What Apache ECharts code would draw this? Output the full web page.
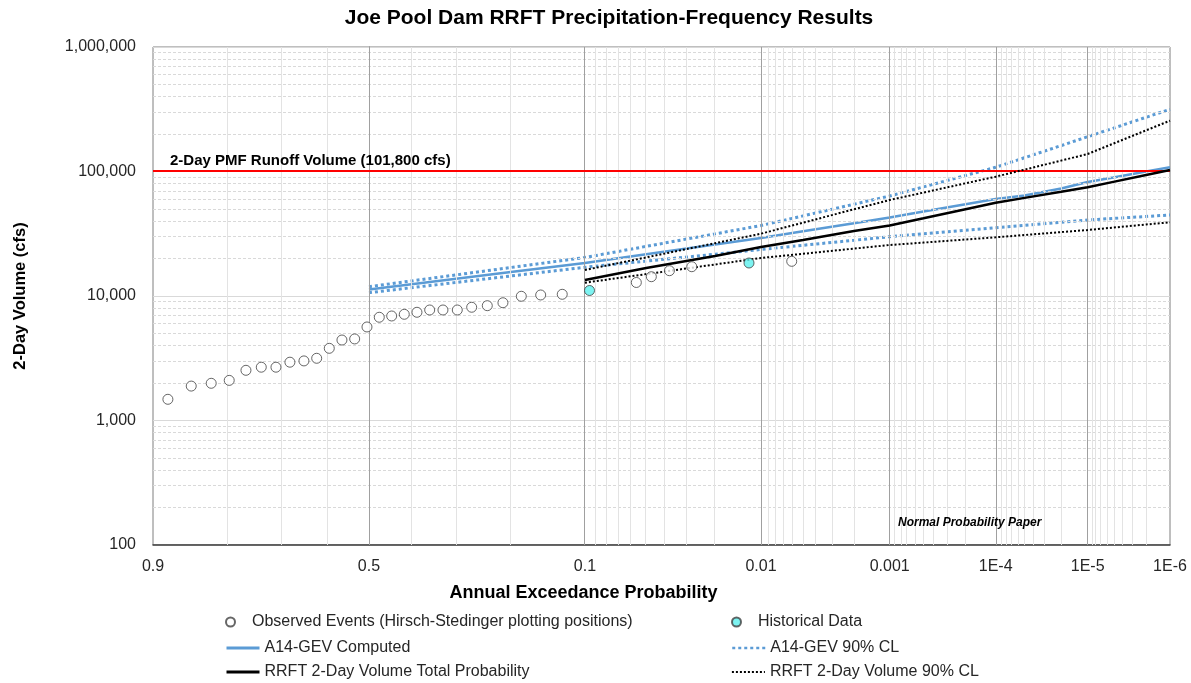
<!DOCTYPE html>
<html>
<head>
<meta charset="utf-8">
<title>Joe Pool Dam RRFT Precipitation-Frequency Results</title>
<script src="https://cdn.jsdelivr.net/npm/echarts@6/dist/echarts.min.js"></script>
<style>
  html, body { margin: 0; padding: 0; background: #fff; }
  #chart { width: 1191px; height: 683px; }
</style>
</head>
<body>
<div id="chart"></div>
<script>
// x axis tick positions (annual exceedance probability)
const tickAEP = [0.9, 0.5, 0.1, 0.01, 0.001, 1e-4, 1e-5, 1e-6];
const tickLabels = ['0.9', '0.5', '0.1', '0.01', '0.001', '1E-4', '1E-5', '1E-6'];

// observed events (Hirsch-Stedinger plotting positions)
const obsAEP = [0.8836, 0.8542, 0.8254, 0.7965, 0.7673, 0.7386, 0.7095, 0.6805, 0.6502, 0.6218,
  0.5931, 0.5637, 0.5338, 0.5047, 0.4756, 0.4464, 0.4170, 0.3879, 0.3593, 0.3303,
  0.3001, 0.2711, 0.2413, 0.2133, 0.1830, 0.1541, 0.1257, 0.0563, 0.0469, 0.0373,
  0.0277, 0.00606];
const obsVol = [1480, 1890, 1990, 2100, 2530, 2680, 2680, 2940, 3010, 3160,
  3800, 4430, 4520, 5640, 6750, 6910, 7130, 7400, 7720, 7720,
  7720, 8120, 8360, 8830, 9950, 10190, 10320, 12840, 14290, 15970,
  17190, 18990];

// historical data
const histAEP = [0.0953, 0.01206];
const histVol = [11070, 18410];

// A14-GEV curves
const gevAEP = [0.5, 0.2, 0.1, 0.05, 0.02, 0.01, 0.005, 0.002, 0.001, 5e-4, 2e-4, 1e-4, 5e-5, 2e-5, 1e-5, 5e-6, 2e-6, 1e-6];
const gevComputed = [11280, 15560, 18410, 21620, 25930, 29240, 33090, 38430, 42710, 47640, 54520, 60130, 64160, 73030, 82360, 89480, 100000, 108080];
const gevUpper = [11880, 16940, 20380, 25030, 31540, 36830, 44000, 54620, 63570, 75200, 92880, 108080, 129080, 161440, 190330, 222700, 272450, 315940];
const gevLower = [10630, 14480, 17010, 19070, 21660, 23640, 25550, 28020, 29950, 31600, 33710, 35380, 36980, 39150, 40770, 42000, 43510, 44730];

// RRFT 2-day volume curves
const rrftAEP = [0.1, 0.05, 0.02, 0.01, 0.005, 0.002, 0.001, 5e-4, 2e-4, 1e-4, 5e-5, 2e-5, 1e-5, 5e-6, 2e-6, 1e-6];
const rrftTotal = [13440, 16790, 20960, 24750, 28180, 33280, 36830, 42080, 49800, 56160, 61380, 68700, 74660, 82510, 93730, 102800];
const rrftUpper = [16180, 20420, 26550, 31650, 38800, 49710, 59040, 67690, 80400, 90850, 103590, 122330, 138240, 167510, 213850, 255860];
const rrftLower = [12790, 14990, 17910, 20200, 21830, 24030, 25680, 26850, 28430, 29610, 30900, 32600, 33890, 35440, 37530, 39080];

// PMF runoff volume
const pmfVolume = 101800;
const pmfLabel = '2-Day PMF Runoff Volume (101,800 cfs)';

const FONT = "'Liberation Sans', Arial, sans-serif";

// inverse standard normal (Acklam)
function normInv(p) {
  const a = [-3.969683028665376e+01, 2.209460984245205e+02, -2.759285104469687e+02, 1.383577518672690e+02, -3.066479806614716e+01, 2.506628277459239e+00];
  const b = [-5.447609879822406e+01, 1.615858368580409e+02, -1.556989798598866e+02, 6.680131188771972e+01, -1.328068155288572e+01];
  const c = [-7.784894002430293e-03, -3.223964580411365e-01, -2.400758277161838e+00, -2.549732539343734e+00, 4.374664141464968e+00, 2.938163982698783e+00];
  const d = [7.784695709041462e-03, 3.224671290700398e-01, 2.445134137142996e+00, 3.754408661907416e+00];
  const pl = 0.02425;
  let q, r;
  if (p < pl) {
    q = Math.sqrt(-2 * Math.log(p));
    return (((((c[0] * q + c[1]) * q + c[2]) * q + c[3]) * q + c[4]) * q + c[5]) /
      ((((d[0] * q + d[1]) * q + d[2]) * q + d[3]) * q + 1);
  }
  if (p > 1 - pl) {
    q = Math.sqrt(-2 * Math.log(1 - p));
    return -(((((c[0] * q + c[1]) * q + c[2]) * q + c[3]) * q + c[4]) * q + c[5]) /
      ((((d[0] * q + d[1]) * q + d[2]) * q + d[3]) * q + 1);
  }
  q = p - 0.5;
  r = q * q;
  return (((((a[0] * r + a[1]) * r + a[2]) * r + a[3]) * r + a[4]) * r + a[5]) * q /
    (((((b[0] * r + b[1]) * r + b[2]) * r + b[3]) * r + b[4]) * r + 1);
}
// normal probability paper: x = z of non-exceedance
function zOf(aep) { return -normInv(aep); }

function pairs(xs, ys) {
  return xs.map((p, i) => [zOf(p), ys[i]]);
}

const tickZ = tickAEP.map(zOf);

// grid lines of the probability paper
let minorAEP = [0.8, 0.7, 0.6, 0.4, 0.3, 0.2];
for (let e = 2; e <= 6; e++) {
  for (let k = 9; k >= 2; k--) minorAEP.push(k * Math.pow(10, -e));
}
const majorAEP = tickAEP.slice(1, -1);
let hMinor = [];
for (let e = 2; e <= 5; e++) {
  for (let k = 2; k <= 9; k++) hMinor.push(k * Math.pow(10, e));
}

function gridSeries(name, items, style) {
  return {
    name: name,
    type: 'line',
    data: [[tickZ[0], 100]],
    symbol: 'none',
    lineStyle: { opacity: 0 },
    silent: true,
    z: 1,
    markLine: {
      silent: true,
      symbol: ['none', 'none'],
      label: { show: false },
      animation: false,
      lineStyle: style,
      data: items
    }
  };
}

let myChart = echarts.init(document.getElementById('chart'));

let blue = '#5b9bd5';

// one legend per entry, laid out in two columns
function legendItem(name, left, top, lineWidth) {
  let l = {
    data: [name],
    left: left,
    top: top,
    padding: 0,
    itemWidth: 33,
    itemHeight: 9,
    textStyle: { fontSize: 16, color: '#262626', fontFamily: FONT }
  };
  if (lineWidth) {
    l.itemStyle = { opacity: 0 };
    l.lineStyle = { width: lineWidth };
  }
  return l;
}

let option = {
  animation: false,
  backgroundColor: '#fff',
  textStyle: { fontFamily: FONT },
  grid: {
    left: 153,
    right: 21,
    top: 47,
    bottom: 138,
    show: true,
    borderColor: '#7f7f7f',
    borderWidth: 1
  },
  graphic: [
    {
      type: 'text',
      x: 609,
      y: 8,
      style: {
        text: 'Joe Pool Dam RRFT Precipitation-Frequency Results',
        font: 'bold 21px ' + FONT,
        fill: '#000',
        textAlign: 'center'
      }
    },
    {
      type: 'text',
      x: 898,
      y: 517,
      z: 10,
      style: {
        text: 'Normal Probability Paper',
        font: 'italic bold 12px ' + FONT,
        fill: '#000'
      }
    }
  ],
  legend: [
    legendItem('Observed Events (Hirsch-Stedinger plotting positions)', 225, 614),
    legendItem('A14-GEV Computed', 225, 640, 3),
    legendItem('RRFT 2-Day Volume Total Probability', 225, 664, 3),
    legendItem('Historical Data', 731, 614),
    legendItem('A14-GEV 90% CL', 731, 640, 2.5),
    legendItem('RRFT 2-Day Volume 90% CL', 731, 664, 1.8)
  ],
  xAxis: {
    type: 'value',
    min: tickZ[0],
    max: tickZ[tickZ.length - 1],
    name: 'Annual Exceedance Probability',
    nameLocation: 'middle',
    nameGap: 39,
    nameTextStyle: {
      fontSize: 18,
      fontWeight: 'bold',
      color: '#000',
      fontFamily: FONT,
      padding: [0, 156, 0, 0]
    },
    axisLine: { show: true, lineStyle: { color: '#404040', width: 1.5 } },
    axisTick: { show: false },
    splitLine: { show: false },
    axisLabel: {
      customValues: tickZ,
      margin: 14,
      fontSize: 16,
      color: '#262626',
      fontFamily: FONT,
      formatter: function (v) {
        let best = 0;
        for (let i = 1; i < tickZ.length; i++) {
          if (Math.abs(tickZ[i] - v) < Math.abs(tickZ[best] - v)) best = i;
        }
        return tickLabels[best];
      }
    }
  },
  yAxis: {
    type: 'log',
    logBase: 10,
    min: 100,
    max: 1000000,
    name: '2-Day Volume (cfs)',
    nameLocation: 'middle',
    nameGap: 124,
    nameTextStyle: { fontSize: 16.5, fontWeight: 'bold', color: '#000', fontFamily: FONT },
    axisLine: { show: true, lineStyle: { color: '#7f7f7f' } },
    axisTick: { show: false },
    splitLine: { show: true, lineStyle: { color: '#d9d9d9', width: 1 } },
    axisLabel: {
      margin: 17,
      fontSize: 16,
      color: '#262626',
      fontFamily: FONT,
      formatter: function (v) {
        return Math.round(v).toLocaleString('en-US');
      }
    }
  },
  series: [
    gridSeries('hgrid-minor', hMinor.map(v => ({ yAxis: v })),
      { color: '#d9d9d9', width: 1, type: [3, 2] }),
    gridSeries('vgrid-minor', minorAEP.map(p => ({ xAxis: zOf(p) })),
      { color: '#e3e3e3', width: 1, type: 'solid' }),
    gridSeries('vgrid-major', majorAEP.map(p => ({ xAxis: zOf(p) })),
      { color: '#a0a0a0', width: 1, type: 'solid' }),
    {
      name: 'PMF',
      type: 'line',
      data: [[tickZ[0], pmfVolume]],
      symbol: 'none',
      lineStyle: { opacity: 0 },
      z: 3,
      markLine: {
        silent: true,
        symbol: ['none', 'none'],
        animation: false,
        lineStyle: { color: '#ff0000', width: 2, type: 'solid' },
        label: {
          show: true,
          position: 'insideStartTop',
          distance: 2,
          formatter: pmfLabel,
          fontSize: 15,
          fontWeight: 'bold',
          color: '#000',
          fontFamily: FONT,
          padding: [0, 0, 0, 15]
        },
        data: [{ yAxis: pmfVolume }]
      }
    },
    {
      name: 'A14-GEV 90% CL',
      type: 'line',
      data: pairs(gevAEP, gevUpper),
      symbol: 'none',
      z: 4,
      itemStyle: { color: blue },
      lineStyle: { color: blue, width: 3, type: [3, 3] }
    },
    {
      name: 'A14-GEV 90% CL',
      type: 'line',
      data: pairs(gevAEP, gevLower),
      symbol: 'none',
      z: 4,
      itemStyle: { color: blue },
      lineStyle: { color: blue, width: 3, type: [3, 3] }
    },
    {
      name: 'A14-GEV Computed',
      type: 'line',
      data: pairs(gevAEP, gevComputed),
      symbol: 'none',
      z: 4,
      itemStyle: { color: blue },
      lineStyle: { color: blue, width: 2.5 }
    },
    {
      name: 'RRFT 2-Day Volume 90% CL',
      type: 'line',
      data: pairs(rrftAEP, rrftUpper),
      symbol: 'none',
      z: 5,
      itemStyle: { color: '#000' },
      lineStyle: { color: '#000', width: 2, type: [2, 2] }
    },
    {
      name: 'RRFT 2-Day Volume 90% CL',
      type: 'line',
      data: pairs(rrftAEP, rrftLower),
      symbol: 'none',
      z: 5,
      itemStyle: { color: '#000' },
      lineStyle: { color: '#000', width: 2, type: [2, 2] }
    },
    {
      name: 'RRFT 2-Day Volume Total Probability',
      type: 'line',
      data: pairs(rrftAEP, rrftTotal),
      symbol: 'none',
      z: 5,
      itemStyle: { color: '#000' },
      lineStyle: { color: '#000', width: 2.5 }
    },
    {
      name: 'Observed Events (Hirsch-Stedinger plotting positions)',
      type: 'scatter',
      data: pairs(obsAEP, obsVol),
      symbol: 'circle',
      symbolSize: 10,
      z: 6,
      itemStyle: { color: '#fff', borderColor: '#404040', borderWidth: 1 }
    },
    {
      name: 'Historical Data',
      type: 'scatter',
      data: pairs(histAEP, histVol),
      symbol: 'circle',
      symbolSize: 10,
      z: 6,
      itemStyle: { color: '#5cf0ee', borderColor: '#404040', borderWidth: 1 }
    }
  ]
};

myChart.setOption(option);
</script>
</body>
</html>
